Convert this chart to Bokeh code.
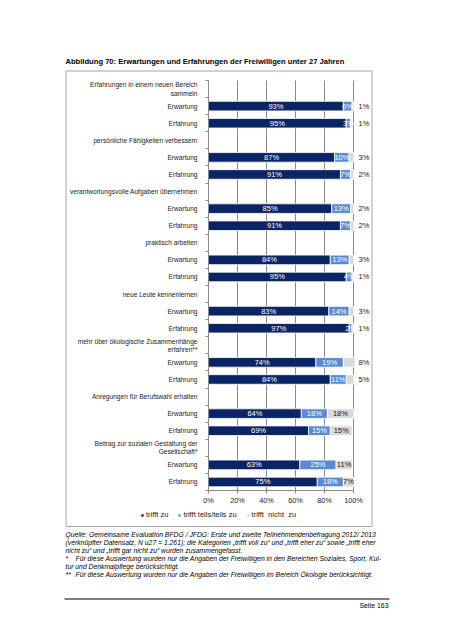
from bokeh.plotting import figure
from bokeh.models import (Range1d, FixedTicker, LabelSet, ColumnDataSource,
                          Legend, LegendItem, PrintfTickFormatter)
from bokeh.embed import file_html
from bokeh.resources import INLINE
from bokeh.core.properties import value

# ---------------- data ----------------
categories = [
    "Erfahrungen in einem neuen Bereich\nsammeln",
    "persönliche Fähigkeiten verbessern",
    "verantwortungsvolle Aufgaben übernehmen",
    "praktisch arbeiten",
    "neue Leute kennenlernen",
    "mehr über ökologische Zusammenhänge\nerfahren**",
    "Anregungen für Berufswahl erhalten",
    "Beitrag zur sozialen Gestaltung der\nGesellschaft*",
]
phases = ["Erwartung", "Erfahrung"]
trifft_zu = [93, 95, 87, 91, 85, 91, 84, 95, 83, 97, 74, 84, 64, 69, 63, 75]
trifft_teils = [6, 3, 10, 7, 13, 7, 13, 4, 14, 2, 19, 11, 18, 15, 25, 18]
trifft_nicht = [1, 1, 3, 2, 2, 2, 3, 1, 3, 1, 8, 5, 18, 15, 11, 7]
series = ["trifft zu", "trifft teils/teils zu", "trifft  nicht  zu"]
x_ticks = [0, 20, 40, 60, 80, 100]

title_text = "Abbildung 70: Erwartungen und Erfahrungen der Freiwilligen unter 27 Jahren"
note_marks = ["", "", "", "*", "", "**"]
note_lines = [
    "Quelle: Gemeinsame Evaluation BFDG / JFDG: Erste und zweite Teilnehmendenbefragung 2012/ 2013",
    "(verknüpfter Datensatz, N u27 = 1.261); die Kategorien „trifft voll zu“ und „trifft eher zu“ sowie „trifft eher",
    "nicht zu“ und „trifft gar nicht zu“ wurden zusammengefasst.",
    "Für diese Auswertung wurden nur die Angaben der Freiwilligen in den Bereichen Soziales, Sport, Kul-",
    "tur und Denkmalpflege berücksichtigt.",
    "Für diese Auswertung wurden nur die Angaben der Freiwilligen im Bereich Ökologie berücksichtigt.",
]
page_text = "Seite 163"

# ---------------- layout / styles ----------------
colors = ["#0B2463", "#5A8BD0", "#D9D9D9"]
FONT = "Liberation Sans"
GRID = "#8a8a8a"
BOX = "#a6a6a6"
TXT = "#222222"
W, H = 452, 640
n_rows = len(categories) * 3
AX_X0, AX_PX = 208.0, 1.45                 # page x of 0 %, pixels per percent
ROW_Y0, ROW_PX = 80.0, 410.0 / n_rows      # page y of the first row edge, pixels per row


def dx(X):   # page pixel -> data x
    return (X - AX_X0) / AX_PX


def dy(Y):   # page pixel -> data y
    return (Y - ROW_Y0) / ROW_PX - 0.5


p = figure(width=W, height=H, x_range=Range1d(dx(0), dx(W)), y_range=Range1d(dy(H), dy(0)),
           title=None, output_backend="svg", toolbar_location=None, min_border=0)
p.outline_line_color = None
p.grid.visible = False

# grid lines
p.segment(x0=x_ticks[1:], y0=[-0.5] * (len(x_ticks) - 1), x1=x_ticks[1:],
          y1=[n_rows - 0.5] * (len(x_ticks) - 1), line_color=GRID, line_width=1)

ys = [3 * g + 1 + k for g in range(len(categories)) for k in range(len(phases))]
src = ColumnDataSource(dict(y=ys, zu=trifft_zu, teils=trifft_teils, nicht=trifft_nicht))
rends = p.hbar_stack(["zu", "teils", "nicht"], y="y", height=0.56, color=colors,
                     line_color="white", line_width=0.8, source=src)

# bar labels
x1 = [a / 2 for a in trifft_zu]
x2 = [a + b / 2 for a, b in zip(trifft_zu, trifft_teils)]
inside = [(c >= 7 and a + b + c <= 100) for a, b, c in zip(trifft_zu, trifft_teils, trifft_nicht)]
x3 = [(a + b + c / 2) if ins else 103.5
      for a, b, c, ins in zip(trifft_zu, trifft_teils, trifft_nicht, inside)]
al3 = ["center" if ins else "left" for ins in inside]
lab_src = ColumnDataSource(dict(
    x=x1 + x2 + x3,
    y=ys * 3,
    t=[f"{v}%" for v in trifft_zu + trifft_teils + trifft_nicht],
    c=["white"] * (2 * len(ys)) + ["#1a1a1a"] * len(ys),
    a=["center"] * (2 * len(ys)) + al3,
))
p.add_layout(LabelSet(x="x", y="y", text="t", source=lab_src, text_align="a",
                      text_baseline="middle", text_color="c",
                      text_font=value(FONT), text_font_size=value("7.5px")))

# y axis (categories), drawn at x = 0 %
row_labels = {}
for g, c in enumerate(categories):
    row_labels[3 * g] = c
    for k, ph in enumerate(phases):
        row_labels[3 * g + 1 + k] = ph
yax = p.yaxis[0]
yax.fixed_location = 0
yax.bounds = (-0.5, n_rows - 0.5)
yax.ticker = FixedTicker(ticks=list(range(n_rows)),
                         minor_ticks=[r - 0.5 for r in range(n_rows + 1)])
yax.major_label_overrides = row_labels
yax.major_tick_in = 0
yax.major_tick_out = 0
yax.minor_tick_in = 0
yax.minor_tick_out = 3
yax.minor_tick_line_color = GRID
yax.axis_line_color = GRID
yax.major_label_standoff = 8
yax.major_label_text_font = FONT
yax.major_label_text_font_size = "6.6px"
yax.major_label_text_color = TXT

# x axis (percent), drawn below the last row
xax = p.xaxis[0]
xax.fixed_location = n_rows - 0.5
xax.bounds = (x_ticks[0], x_ticks[-1])
xax.ticker = FixedTicker(ticks=x_ticks)
xax.formatter = PrintfTickFormatter(format="%d%%")
xax.major_tick_in = 0
xax.major_tick_out = 3
xax.minor_tick_line_color = None
xax.major_tick_line_color = GRID
xax.axis_line_color = GRID
xax.major_label_standoff = 2
xax.major_label_text_font = FONT
xax.major_label_text_font_size = "7.3px"
xax.major_label_text_color = TXT

# legend
legend = Legend(items=[LegendItem(label=s, renderers=[r]) for s, r in zip(series, rends)],
                orientation="horizontal", location=(140, H - 519),
                glyph_width=4, glyph_height=4, label_height=8, label_standoff=2,
                spacing=9, padding=0, margin=0, border_line_color=None,
                background_fill_alpha=0, label_text_font=FONT,
                label_text_font_size="7.5px", label_text_color=TXT)
p.add_layout(legend)

# chart box
p.quad(left=[dx(65.5)], right=[dx(371.5)], top=[dy(70.5)], bottom=[dy(526)],
       fill_color=None, line_color=BOX, line_width=1)

# heading
p.text(x=[dx(65)], y=[dy(61)], text=[title_text], text_font=value(FONT),
       text_font_size=value("7.6px"), text_font_style=value("bold"),
       text_baseline=value("middle"), text_color="black")

# notes
note_y = [dy(534 + 7.95 * i) for i in range(len(note_lines))]
note_x = [dx(75) if m else dx(65) for m in note_marks]
p.text(x=note_x, y=note_y, text=note_lines, text_font=value(FONT),
       text_font_size=value("6.8px"), text_font_style=value("italic"),
       text_baseline=value("middle"), text_color="black")
mk = [(m, yy) for m, yy in zip(note_marks, note_y) if m]
p.text(x=[dx(65)] * len(mk), y=[yy for _, yy in mk], text=[m for m, _ in mk],
       text_font=value(FONT), text_font_size=value("6.8px"),
       text_font_style=value("italic"), text_baseline=value("middle"), text_color="black")

# footer rule and page number
p.segment(x0=[dx(64)], y0=[dy(598.5)], x1=[dx(389)], y1=[dy(598.5)],
          line_color="black", line_width=1.2)
p.text(x=[dx(388)], y=[dy(604.5)], text=[page_text], text_font=value(FONT),
       text_font_size=value("6.9px"), text_baseline=value("middle"),
       text_align=value("right"), text_color="black")

open("out.html", "w").write(file_html(p, INLINE))
